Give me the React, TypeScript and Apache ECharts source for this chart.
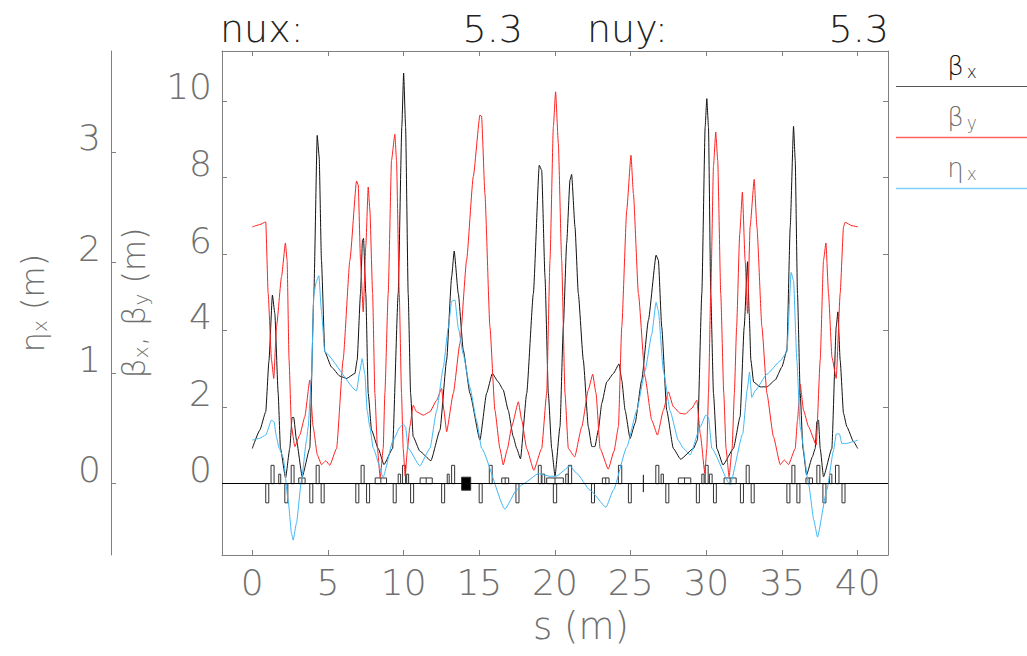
import React, { useEffect, useRef } from 'react';
import * as echarts from 'echarts';

const W = 1027;
const H = 656;
const FONT = 'DejaVu Sans';
const FW: any = 200;
const GREY = '#707070';

const xTicks = [0, 5, 10, 15, 20, 25, 30, 35, 40];
const betaTicks = [0, 2, 4, 6, 8, 10];
const etaTicks = [0, 1, 2, 3];
const tuneX = '5.3';
const tuneY = '5.3';

// [s (m), beta_x (m)]
const betaX: [number, number][] = [
  [0, 0.92], [0.5, 1.4], [0.89, 1.88], [1.1, 3.2], [1.33, 4.93], [1.49, 4.45], [1.71, 2.37], [1.86, 0.93],
  [2.2, 0.15], [2.48, 0.93], [2.63, 1.73], [2.74, 1.73], [2.92, 1.14], [3.3, 0.18], [3.8, 0.93], [4.07, 4.98],
  [4.29, 9.1], [4.42, 8.54], [4.57, 5.84], [4.79, 3.45], [5.23, 3.05], [5.79, 2.81], [6.23, 2.75], [6.78, 2.88],
  [6.93, 3.23], [7.15, 4.97], [7.28, 6.36], [7.35, 6.41], [7.5, 4.97], [7.66, 2.36], [7.88, 1.4], [8.32, 0.92],
  [8.7, 0.5], [9.27, 0.92], [9.64, 4.97], [9.88, 9.32], [10.0, 10.73], [10.13, 9.32], [10.3, 4.97], [10.46, 2.36],
  [10.63, 1.23], [11.07, 0.85], [11.8, 0.6], [12.4, 1.4], [12.84, 3.23], [13.17, 5.4], [13.34, 6.08], [13.61, 4.97],
  [13.94, 3.49], [14.38, 2.36], [15.04, 1.14], [15.48, 2.36], [15.86, 2.88], [16.25, 2.66], [16.58, 2.45], [16.91, 1.92],
  [17.24, 1.23], [17.47, 0.92], [17.72, 0.65], [18.13, 2.36], [18.57, 4.97], [18.96, 8.32], [19.12, 8.19], [19.34, 5.4],
  [19.56, 2.36], [19.78, 0.92], [20.0, 0.2], [20.33, 1.49], [20.55, 4.1], [20.77, 6.28], [20.99, 7.93], [21.1, 8.08],
  [21.32, 6.71], [21.54, 4.97], [21.87, 3.23], [22.2, 1.49], [22.43, 0.97], [22.64, 0.97], [22.86, 1.4], [23.09, 2.1],
  [23.42, 2.66], [23.86, 2.88], [24.23, 3.13], [24.41, 2.71], [24.63, 1.92], [24.96, 1.18], [25.29, 1.58], [25.73, 2.71],
  [26.17, 4.27], [26.68, 5.97], [26.83, 5.84], [27.05, 4.1], [27.38, 1.92], [27.82, 0.92], [28.3, 0.64], [29.15, 0.92],
  [29.41, 1.14], [29.7, 4.97], [29.92, 9.32], [30.03, 10.06], [30.14, 9.32], [30.29, 4.97], [30.47, 2.36], [30.69, 0.92],
  [31.1, 0.49], [31.79, 0.92], [32.23, 1.75], [32.5, 4.1], [32.72, 5.8], [32.83, 4.45], [32.94, 3.23], [33.12, 2.66],
  [33.55, 2.53], [34.0, 2.53], [34.55, 2.71], [34.99, 3.05], [35.32, 3.49], [35.54, 6.71], [35.76, 9.34], [35.87, 8.45],
  [36.02, 4.97], [36.2, 2.36], [36.38, 0.92], [36.62, 0.23], [37.0, 0.7], [37.19, 0.92], [37.3, 1.62], [37.41, 1.66],
  [37.52, 0.92], [37.74, 0.18], [38.29, 0.92], [38.58, 4.1], [38.69, 4.49], [38.84, 3.23], [39.06, 1.84], [39.28, 1.49],
  [39.72, 1.1], [40, 0.92],
];

// [s (m), beta_y (m)]
const betaY: [number, number][] = [
  [0, 6.71], [0.5, 6.77], [0.89, 6.84], [1.05, 4.97], [1.27, 3.23], [1.42, 2.75], [1.6, 4.1], [1.93, 5.4],
  [2.19, 6.29], [2.3, 5.84], [2.43, 3.23], [2.59, 1.49], [2.81, 0.97], [3.14, 1.27], [3.47, 1.75], [3.8, 2.71],
  [4.02, 1.49], [4.3, 0.75], [4.57, 0.5], [4.86, 0.6], [5.12, 0.48], [5.57, 0.92], [6.0, 3.23], [6.45, 5.84],
  [6.89, 7.91], [7.0, 7.8], [7.15, 5.84], [7.33, 4.49], [7.5, 6.2], [7.66, 7.75], [7.77, 7.15], [7.95, 4.97],
  [8.1, 2.36], [8.27, 0.92], [8.45, 0.15], [8.65, 0.92], [8.76, 2.36], [8.98, 4.97], [9.2, 8.45], [9.42, 9.13],
  [9.53, 8.45], [9.71, 4.97], [9.86, 2.36], [9.97, 0.92], [10.1, 0.2], [10.25, 0.9], [10.41, 1.49], [10.63, 2.05],
  [10.85, 1.88], [11.29, 1.79], [11.74, 1.88], [12.18, 2.18], [12.51, 2.49], [12.66, 1.92], [12.84, 1.36], [13.28, 2.36],
  [13.72, 3.67], [14.16, 5.84], [14.6, 8.02], [15.04, 9.63], [15.15, 9.6], [15.37, 7.58], [15.7, 4.1], [16.03, 1.92],
  [16.36, 0.92], [16.58, 0.49], [16.85, 0.9], [17.14, 1.49], [17.58, 2.14], [17.8, 1.66], [18.13, 0.92], [18.6, 0.35],
  [19.12, 0.92], [19.45, 2.36], [19.67, 5.84], [19.89, 9.32], [20.04, 10.24], [20.22, 8.89], [20.44, 5.84], [20.66, 2.36],
  [20.88, 0.92], [21.3, 0.7], [21.77, 1.49], [22.2, 2.45], [22.49, 2.86], [22.71, 2.36], [22.98, 0.92], [23.52, 0.38],
  [23.9, 0.85], [24.19, 1.49], [24.41, 4.1], [24.74, 7.15], [25.02, 8.58], [25.18, 7.58], [25.51, 4.97], [25.95, 2.79],
  [26.39, 1.66], [26.77, 1.27], [27.16, 1.92], [27.49, 2.4], [27.82, 2.01], [28.26, 1.84], [28.6, 1.82], [29.04, 1.97],
  [29.37, 2.18], [29.6, 1.3], [29.9, 0.27], [30.03, 0.92], [30.14, 2.36], [30.29, 4.97], [30.47, 8.3], [30.62, 9.19],
  [30.75, 8.45], [30.95, 4.97], [31.15, 2.36], [31.3, 0.92], [31.5, 0.18], [31.7, 0.92], [31.85, 2.36], [32.0, 4.1],
  [32.2, 6.5], [32.38, 7.62], [32.56, 5.84], [32.72, 4.45], [32.89, 6.71], [33.16, 7.95], [33.34, 6.71], [33.67, 4.1],
  [34.0, 2.36], [34.43, 1.23], [34.88, 0.5], [35.15, 0.62], [35.43, 0.5], [35.87, 0.92], [36.02, 1.66], [36.2, 2.6],
  [36.42, 1.92], [36.75, 1.49], [37.26, 1.01], [37.52, 3.23], [37.74, 5.84], [37.9, 6.29], [38.07, 4.97], [38.3, 3.3],
  [38.58, 2.75], [38.84, 4.97], [39.06, 6.71], [39.17, 6.83], [39.62, 6.74], [40, 6.71],
];

// [s (m), eta_x (m)]
const etaX: [number, number][] = [
  [0, 0.394], [0.5, 0.41], [0.89, 0.44], [1.27, 0.574], [1.44, 0.56], [1.6, 0.42], [1.77, 0.32], [2.04, 0.24],
  [2.37, -0.147], [2.59, -0.447], [2.7, -0.51], [2.92, -0.357], [3.25, 0.03], [3.58, 0.39], [3.69, 0.51], [3.91, 0.96],
  [4.07, 1.72], [4.24, 1.83], [4.4, 1.88], [4.57, 1.56], [4.79, 1.19], [6.89, 0.84], [7.11, 1.02], [7.26, 1.13],
  [7.44, 0.99], [7.59, 0.66], [7.77, 0.51], [7.99, 0.32], [8.65, 0.06], [9.3, 0.39], [9.75, 0.51], [9.97, 0.54],
  [10.13, 0.51], [10.3, 0.32], [11.07, 0.16], [11.74, 0.32], [12.18, 0.66], [12.62, 1.05], [12.95, 1.41], [13.17, 1.65],
  [13.39, 1.66], [13.61, 1.41], [13.94, 1.17], [14.38, 0.87], [14.82, 0.57], [15.15, 0.32], [16.69, -0.23], [17.47, -0.057],
  [17.8, -0.01], [18.9, 0.09], [19.67, 0.067], [20.07, 0.067], [21.0, 0.16], [21.43, 0.094], [22.3, -0.057], [23.37, -0.213],
  [23.86, -0.057], [24.74, 0.33], [25.4, 0.66], [25.95, 1.02], [26.39, 1.35], [26.68, 1.64], [26.83, 1.56], [27.16, 1.02],
  [27.6, 0.66], [28.15, 0.39], [28.48, 0.32], [28.93, 0.26], [29.59, 0.51], [29.96, 0.62], [30.14, 0.6], [30.36, 0.32],
  [31.57, -0.01], [32.4, 0.45], [32.7, 0.85], [32.85, 1.01], [33.0, 0.78], [33.22, 0.84], [34.0, 0.99], [34.88, 1.11],
  [35.32, 1.19], [35.6, 1.91], [35.76, 1.835], [35.98, 1.11], [36.2, 0.51], [36.75, 0.0], [37.1, -0.33], [37.34, -0.483],
  [37.96, -0.057], [38.4, 0.3], [38.58, 0.45], [38.79, 0.45], [38.95, 0.364], [39.28, 0.364], [39.72, 0.38], [40, 0.394],
];

// lattice elements: [s start, s end]
const quadF: [number, number][] = [
  [1.24, 1.44], [2.57, 2.76], [4.22, 4.42], [7.19, 7.39], [9.93, 10.13], [13.17, 13.37], [15.66, 15.85], [18.9, 19.09],
  [20.88, 21.1], [24.19, 24.41], [26.66, 26.86], [29.92, 30.12], [32.63, 32.83], [35.65, 35.85], [37.3, 37.5], [38.53, 38.76],
];
const quadD: [number, number][] = [
  [0.89, 1.09], [2.15, 2.35], [3.8, 4.0], [4.55, 4.75], [6.84, 7.04], [7.55, 7.75], [9.31, 9.51], [10.46, 10.66],
  [12.51, 12.71], [14.99, 15.19], [17.42, 17.62], [19.89, 20.11], [22.41, 22.61], [24.85, 25.04], [27.32, 27.52], [29.34, 29.54],
  [30.47, 30.66], [32.25, 32.45], [32.96, 33.16], [35.32, 35.52], [35.98, 36.18], [37.7, 37.9], [38.96, 39.16],
];
const sextupoles: [number, number][] = [
  [1.75, 1.88], [9.64, 9.8], [10.2, 10.33], [12.88, 13.01], [19.14, 19.32], [20.71, 20.88], [27.01, 27.16], [29.7, 29.85],
  [30.2, 30.38], [38.14, 38.29],
];
const dipoles: [number, number][] = [
  [3.07, 3.49], [8.12, 8.87], [11.09, 11.89], [16.48, 16.94], [19.45, 20.55], [23.13, 23.57], [28.15, 28.97], [31.17, 31.97],
  [36.58, 37.01],
];
const solenoids: [number, number][] = [[13.83, 14.43]];
const monitors: number[] = [25.84];

export default function App() {
  const ref = useRef<HTMLDivElement>(null);

  useEffect(() => {
    if (!ref.current) return;
    const chart = echarts.init(ref.current, null, { renderer: 'svg' });

    // [s0, s1, yTop, yBottom, filled, split]
    const lattice: number[][] = [
      ...quadF.map(([a, b]) => [a, b, 0.48, 0, 0, 0]),
      ...quadD.map(([a, b]) => [a, b, 0, -0.5, 0, 0]),
      ...sextupoles.map(([a, b]) => [a, b, 0.25, 0, 0, 0]),
      ...dipoles.map(([a, b]) => [a, b, 0.15, 0, 0, 1]),
      ...solenoids.map(([a, b]) => [a, b, 0.17, -0.17, 1, 0]),
      ...monitors.map((s) => [s, s, 0.23, -0.22, 0, 0]),
    ];

    const baseText = { fontFamily: FONT, fontWeight: FW };
    const richName = {
      b: { fontSize: 32, fontFamily: FONT, fontWeight: FW, color: GREY, lineHeight: 40 },
      s: { fontSize: 20, fontFamily: FONT, fontWeight: FW, color: GREY, lineHeight: 40, padding: [14, 0, 0, 0] },
      n: { fontSize: 32, fontFamily: FONT, fontWeight: FW, color: GREY, lineHeight: 40 },
    };
    const richLeg = (c: string) => ({
      b: { fontSize: 26, fontFamily: FONT, fontWeight: FW, fill: c, color: c },
      s: { fontSize: 17, fontFamily: FONT, fontWeight: FW, fill: c, color: c, padding: [12, 0, 0, 3] },
    });

    const axisLineStyle = { color: '#808080', width: 1 };
    const curve = (color: string) => ({
      showSymbol: false, smooth: 0.15, smoothMonotone: 'x',
      lineStyle: { color, width: 1 }, itemStyle: { color },
    });

    const option: any = {
      animation: false,
      backgroundColor: '#ffffff',
      grid: { left: 222, right: W - 888, top: 51, bottom: H - 555, containLabel: false },
      xAxis: [
        {
          type: 'value', position: 'bottom', min: -2, max: 42,
          axisLine: { show: true, onZero: false, lineStyle: axisLineStyle },
          axisTick: { show: true, inside: true, length: 5, customValues: xTicks, lineStyle: axisLineStyle },
          axisLabel: { show: true, customValues: xTicks, fontSize: 36, color: GREY, margin: 9, ...baseText },
          splitLine: { show: false },
          name: 's (m)', nameLocation: 'middle', nameGap: 53,
          nameTextStyle: { fontSize: 37, color: GREY, padding: [0, 0, 0, 52], ...baseText },
        },
        {
          type: 'value', position: 'top', min: -2, max: 42,
          axisLine: { show: true, onZero: false, lineStyle: axisLineStyle },
          axisTick: { show: true, inside: true, length: 5, customValues: xTicks, lineStyle: axisLineStyle },
          axisLabel: { show: false },
          splitLine: { show: false },
        },
      ],
      yAxis: [
        {
          type: 'value', position: 'left', min: -1.863, max: 11.306,
          axisLine: { show: true, onZero: false, lineStyle: axisLineStyle },
          axisTick: { show: true, inside: true, length: 5, customValues: betaTicks, lineStyle: axisLineStyle },
          axisLabel: { show: true, customValues: betaTicks, fontSize: 36, color: GREY, margin: 10, verticalAlign: 'bottom', lineHeight: 28, ...baseText },
          splitLine: { show: false },
          name: '{b|β}{s|x}{n|, }{b|β}{s|y}{n| (m)}', nameLocation: 'middle', nameGap: 68, nameRotate: 90,
          nameTextStyle: { rich: richName },
        },
        {
          type: 'value', position: 'right', min: -1.863, max: 11.306,
          axisLine: { show: true, onZero: false, lineStyle: axisLineStyle },
          axisTick: { show: true, inside: true, length: 5, customValues: betaTicks, lineStyle: axisLineStyle },
          axisLabel: { show: false },
          splitLine: { show: false },
        },
        {
          type: 'value', position: 'left', offset: 111, min: -0.645, max: 3.912,
          axisLine: { show: true, onZero: false, lineStyle: axisLineStyle },
          axisTick: { show: true, inside: true, length: 5, customValues: etaTicks, lineStyle: axisLineStyle },
          axisLabel: { show: true, customValues: etaTicks, fontSize: 36, color: GREY, margin: 10, verticalAlign: 'bottom', lineHeight: 28, ...baseText },
          splitLine: { show: false },
          name: '{b|η}{s|x}{n| (m)}', nameLocation: 'middle', nameGap: 58, nameRotate: 90,
          nameTextStyle: { rich: richName },
        },
      ],
      series: [
        {
          type: 'custom', name: 'lattice', xAxisIndex: 0, yAxisIndex: 0, z: 1, silent: true,
          data: lattice,
          encode: { x: [0, 1], y: [2, 3] },
          renderItem: (_p: any, api: any) => {
            const p0 = api.coord([api.value(0), api.value(2)]);
            const p1 = api.coord([api.value(1), api.value(3)]);
            const filled = api.value(4) === 1;
            const split = api.value(5) === 1;
            const children: any[] = [
              {
                type: 'rect',
                shape: { x: p0[0], y: p0[1], width: p1[0] - p0[0], height: p1[1] - p0[1] },
                style: { fill: filled ? '#000' : 'none', stroke: '#333', lineWidth: 1 },
              },
            ];
            if (split) {
              const mx = (p0[0] + p1[0]) / 2;
              children.push({ type: 'line', shape: { x1: mx, y1: p0[1], x2: mx, y2: p1[1] }, style: { stroke: '#333', lineWidth: 1 } });
            }
            return { type: 'group', children };
          },
          markLine: {
            silent: true, symbol: 'none', label: { show: false },
            lineStyle: { color: '#000', width: 1, type: 'solid' },
            data: [{ yAxis: 0 }],
          },
        },
        { type: 'line', name: 'beta_x', xAxisIndex: 0, yAxisIndex: 0, z: 3, data: betaX, ...curve('#111') },
        { type: 'line', name: 'beta_y', xAxisIndex: 0, yAxisIndex: 0, z: 3, data: betaY, ...curve('#ff2020') },
        { type: 'line', name: 'eta_x', xAxisIndex: 0, yAxisIndex: 2, z: 3, data: etaX, ...curve('#3fb8f5') },
      ],
      graphic: [
        { type: 'text', x: 220, y: 29, style: { text: 'nux:', fontSize: 38, ...baseText, fill: '#222', align: 'left', verticalAlign: 'middle' } },
        { type: 'text', x: 523, y: 29, style: { text: tuneX, fontSize: 38, ...baseText, fill: '#222', align: 'right', verticalAlign: 'middle' } },
        { type: 'text', x: 587, y: 29, style: { text: 'nuy:', fontSize: 38, ...baseText, fill: '#222', align: 'left', verticalAlign: 'middle' } },
        { type: 'text', x: 889, y: 29, style: { text: tuneY, fontSize: 38, ...baseText, fill: '#222', align: 'right', verticalAlign: 'middle' } },
        { type: 'text', x: 962, y: 66, style: { text: '{b|β}{s|x}', rich: richLeg('#111'), align: 'center', verticalAlign: 'middle' } },
        { type: 'line', shape: { x1: 896, y1: 86.5, x2: 1027, y2: 86.5 }, style: { stroke: '#555555', fill: null, lineWidth: 1 } },
        { type: 'text', x: 962, y: 117, style: { text: '{b|β}{s|y}', rich: richLeg(GREY), align: 'center', verticalAlign: 'middle' } },
        { type: 'line', shape: { x1: 896, y1: 137.5, x2: 1027, y2: 137.5 }, style: { stroke: '#ff6060', fill: null, lineWidth: 1.5 } },
        { type: 'text', x: 962, y: 168, style: { text: '{b|η}{s|x}', rich: richLeg(GREY), align: 'center', verticalAlign: 'middle' } },
        { type: 'line', shape: { x1: 896, y1: 188.5, x2: 1027, y2: 188.5 }, style: { stroke: '#7fd0f7', fill: null, lineWidth: 1.5 } },
      ],
    };

    chart.setOption(option);
    return () => chart.dispose();
  }, []);

  return <div ref={ref} style={{ position: 'absolute', left: 0, top: 0, width: W, height: H }} />;
}
